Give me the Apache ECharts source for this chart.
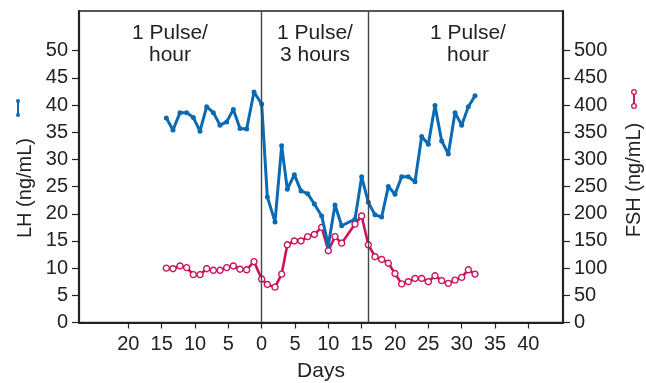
<!DOCTYPE html>
<html>
<head>
<meta charset="utf-8">
<script src="https://cdn.jsdelivr.net/npm/echarts@6/dist/echarts.min.js"></script>
<style>
  html, body { margin: 0; padding: 0; background: #fff; }
  #chart { width: 646px; height: 383px; }
</style>
</head>
<body>
<div id="chart"></div>
<script>
// Sampling days relative to the switch in pulse frequency (day 0)
const days = [-14.3, -13.3, -12.25, -11.25, -10.25, -9.25, -8.25, -7.25, -6.25, -5.25, -4.25, -3.25, -2.25, -1.15,
  0, 0.85, 2, 3, 3.85, 4.9, 5.9, 6.9, 7.9, 9, 10, 11, 12, 14, 15, 16,
  17, 18, 19, 20, 21, 22, 23, 24, 25, 26, 27, 28, 29, 30, 31, 32];

// Luteinizing hormone, ng/mL
const lhValues = [37.6, 35.4, 38.6, 38.6, 37.7, 35.2, 39.7, 38.6, 36.3, 36.9, 39.2, 35.7, 35.6, 42.4,
  40.2, 23.1, 18.5, 32.5, 24.5, 27.2, 24.2, 23.7, 21.8, 19.6, 14.2, 21.6, 17.8, 19.0, 26.8, 22.1,
  19.8, 19.4, 25.0, 23.6, 26.8, 26.8, 25.9, 34.2, 32.8, 39.9, 33.4, 31.0, 38.6, 36.3, 39.7, 41.7];

// Follicle-stimulating hormone, ng/mL
const fshValues = [100, 99, 104, 101, 88, 88, 99, 96, 96, 101, 104, 98, 97, 112,
  80, 70, 65, 89, 143, 150, 150, 158, 162, 175, 132, 158, 146, 181, 196, 143,
  121, 116, 109, 90, 71, 75, 81, 81, 75, 86, 77, 72, 78, 83, 97, 89];

// Days on which the pulse frequency changes
const phaseChanges = [0, 16];

// Axis tick positions
const dayTicks = [-20, -15, -10, -5, 0, 5, 10, 15, 20, 25, 30, 35, 40];
const lhTicks = [0, 5, 10, 15, 20, 25, 30, 35, 40, 45, 50];
const fshTicks = [0, 50, 100, 150, 200, 250, 300, 350, 400, 450, 500];

// Regime labels across the top of the plot
const phaseLabels = [
  { lines: ['1 Pulse/', 'hour'], x: 170 },
  { lines: ['1 Pulse/', '3 hours'], x: 315 },
  { lines: ['1 Pulse/', 'hour'], x: 468 }
];

const FONT = '"Liberation Sans", Arial, sans-serif';
const INK = '#222';
const BLUE = '#0a6ab3';
const PINK = '#c8145a';

const chart = echarts.init(document.getElementById('chart'), null, { renderer: 'canvas' });

const lhData = days.map((d, i) => [d, lhValues[i]]);
const fshData = days.map((d, i) => [d, fshValues[i]]);

const graphics = [];
phaseLabels.forEach(p => {
  p.lines.forEach((t, k) => {
    graphics.push({
      type: 'text', x: p.x, y: 33 + k * 22,
      style: { text: t, font: '21px ' + FONT, fill: INK, textAlign: 'center', textVerticalAlign: 'middle' }
    });
  });
});
// Axis titles
graphics.push({
  type: 'text', x: 25, y: 188, rotation: Math.PI / 2,
  style: { text: 'LH (ng/mL)', font: '20px ' + FONT, fill: INK, textAlign: 'center', textVerticalAlign: 'middle' }
});
graphics.push({
  type: 'text', x: 634, y: 180, rotation: Math.PI / 2,
  style: { text: 'FSH (ng/mL)', font: '20px ' + FONT, fill: INK, textAlign: 'center', textVerticalAlign: 'middle' }
});
// Series keys beside the axis titles
graphics.push({ type: 'line', shape: { x1: 18, y1: 101, x2: 18, y2: 115 }, style: { stroke: BLUE, lineWidth: 2 } });
graphics.push({ type: 'circle', shape: { cx: 18, cy: 101, r: 2 }, style: { fill: BLUE } });
graphics.push({ type: 'circle', shape: { cx: 18, cy: 115, r: 2 }, style: { fill: BLUE } });
graphics.push({ type: 'line', shape: { x1: 634, y1: 93, x2: 634, y2: 106 }, style: { stroke: PINK, lineWidth: 2 } });
graphics.push({ type: 'circle', shape: { cx: 634, cy: 92, r: 2.3 }, style: { fill: '#fff', stroke: PINK, lineWidth: 1.3 } });
graphics.push({ type: 'circle', shape: { cx: 634, cy: 106, r: 2.3 }, style: { fill: '#fff', stroke: PINK, lineWidth: 1.3 } });

const option = {
  animation: false,
  backgroundColor: '#fff',
  grid: {
    left: 79, right: 83, top: 11, bottom: 60.5,
    outerBoundsMode: 'none', containLabel: false,
    show: true, borderColor: INK, borderWidth: 1.6, backgroundColor: 'transparent'
  },
  xAxis: {
    type: 'value', min: -27.4, max: 45.2,
    name: 'Days', nameLocation: 'middle', nameGap: 38,
    nameTextStyle: { fontFamily: FONT, fontSize: 21, color: INK },
    axisLine: { show: true, onZero: false, lineStyle: { color: INK, width: 2.2 } },
    axisTick: { show: true, length: 6, customValues: dayTicks, lineStyle: { color: INK, width: 1.2 } },
    axisLabel: {
      customValues: dayTicks, margin: 12, fontFamily: FONT, fontSize: 20, color: INK,
      formatter: v => String(Math.abs(v))
    },
    splitLine: { show: false }
  },
  yAxis: [
    {
      type: 'value', min: 0, max: 57.3, position: 'left',
      axisLine: { show: true, onZero: false, lineStyle: { color: INK, width: 2.2 } },
      axisTick: { show: true, length: 7, customValues: lhTicks, lineStyle: { color: INK, width: 1.2 } },
      axisLabel: { customValues: lhTicks, margin: 11, fontFamily: FONT, fontSize: 20, color: INK },
      splitLine: { show: false }
    },
    {
      type: 'value', min: 0, max: 573, position: 'right',
      axisLine: { show: true, onZero: false, lineStyle: { color: INK, width: 2.2 } },
      axisTick: { show: true, length: 7, customValues: fshTicks, lineStyle: { color: INK, width: 1.2 } },
      axisLabel: { customValues: fshTicks, margin: 11, fontFamily: FONT, fontSize: 20, color: INK },
      splitLine: { show: false }
    }
  ],
  series: [
    {
      name: 'FSH', type: 'line', yAxisIndex: 1, data: fshData,
      symbol: 'circle', symbolSize: 6,
      lineStyle: { color: PINK, width: 2.6 },
      itemStyle: { color: '#fff', borderColor: PINK, borderWidth: 1.4 },
      z: 3,
      markLine: {
        silent: true, symbol: 'none', label: { show: false },
        lineStyle: { color: '#444', width: 1.4, type: 'solid' },
        data: phaseChanges.map(d => ({ xAxis: d }))
      }
    },
    {
      name: 'LH', type: 'line', yAxisIndex: 0, data: lhData,
      symbol: 'circle', symbolSize: 5,
      lineStyle: { color: BLUE, width: 3 },
      itemStyle: { color: BLUE },
      z: 4
    }
  ],
  graphic: graphics
};

chart.setOption(option);
</script>
</body>
</html>
